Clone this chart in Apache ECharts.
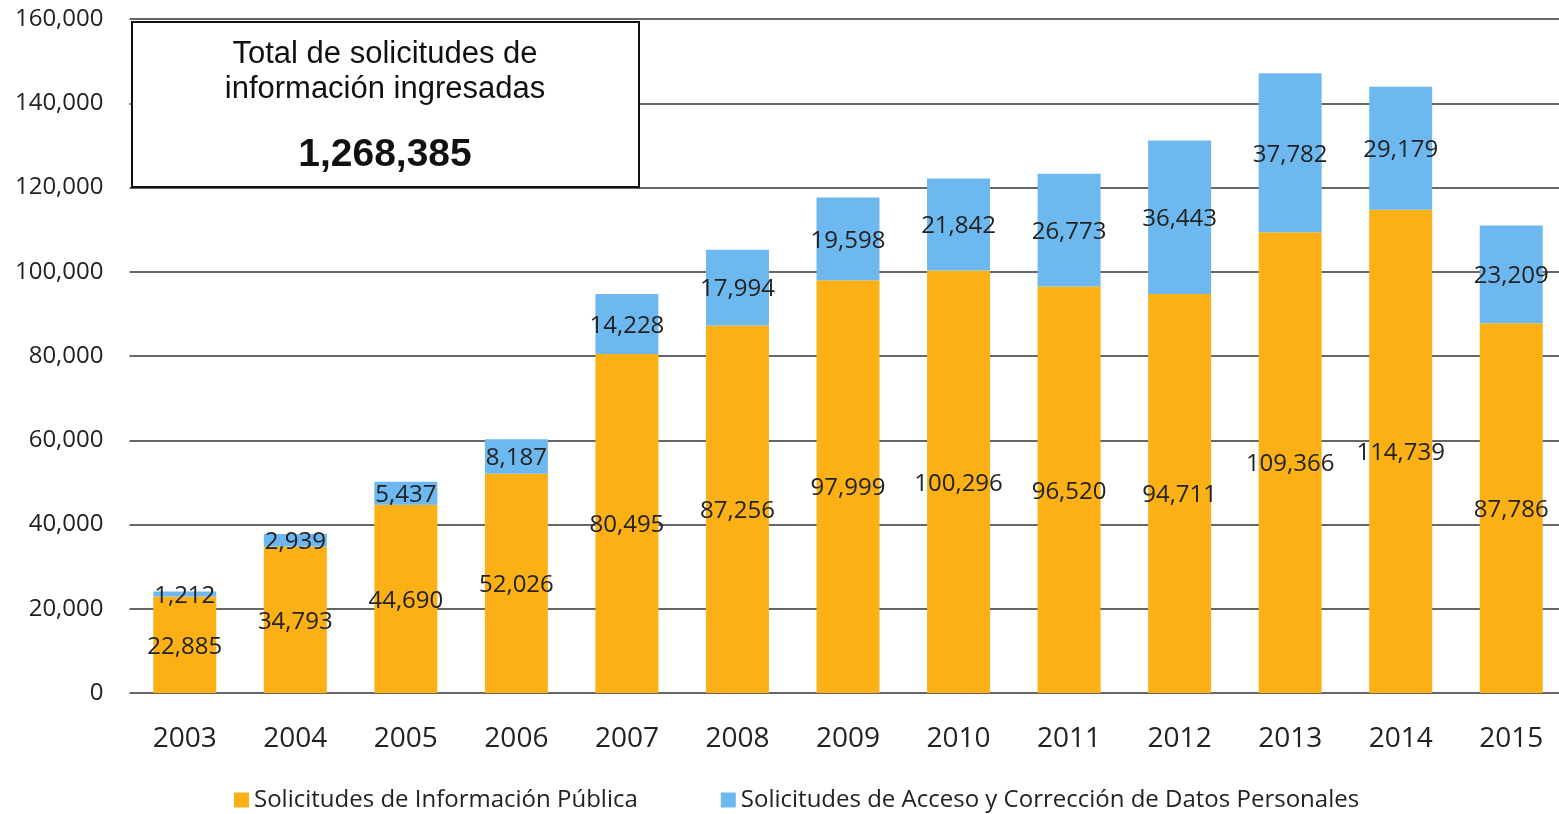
<!DOCTYPE html>
<html>
<head>
<meta charset="utf-8">
<script src="https://cdn.jsdelivr.net/npm/echarts@6/dist/echarts.min.js"></script>
<style>
  html, body { margin: 0; padding: 0; background: #fff; }
  #chart { width: 1559px; height: 814px; }
</style>
</head>
<body>
<div id="chart"></div>
<script>
var years = ["2003", "2004", "2005", "2006", "2007", "2008", "2009", "2010", "2011", "2012", "2013", "2014", "2015"];
var publica = [22885, 34793, 44690, 52026, 80495, 87256, 97999, 100296, 96520, 94711, 109366, 114739, 87786];
var personales = [1212, 2939, 5437, 8187, 14228, 17994, 19598, 21842, 26773, 36443, 37782, 29179, 23209];
var seriesNames = ["Solicitudes de Información Pública", "Solicitudes de Acceso y Corrección de Datos Personales"];
var boxTitle = ["Total de solicitudes de", "información ingresadas"];
var boxTotal = "1,268,385";

var numFmt = function (v) {
  return String(v).replace(/\B(?=(\d{3})+(?!\d))/g, ",");
};

var chart = echarts.init(document.getElementById("chart"));

var labelStyle = {
  show: true,
  position: "inside",
  color: "#222",
  fontFamily: "Open Sans",
  fontSize: 24,
  offset: [0, 2],
  formatter: function (p) { return numFmt(p.value); }
};

chart.setOption({
  backgroundColor: "#fff",
  animation: false,
  grid: { left: 129.5, top: 19, width: 1437, height: 674, outerBoundsMode: "none" },
  legend: {
    left: 229,
    top: 783,
    itemWidth: 15,
    itemHeight: 15,
    itemGap: 83,
    icon: "rect",
    textStyle: { fontFamily: "Open Sans", fontSize: 24, color: "#222" },
    data: seriesNames
  },
  xAxis: {
    type: "category",
    data: years,
    axisLine: { show: false },
    axisTick: { show: false },
    axisLabel: { fontFamily: "Open Sans", fontSize: 28, color: "#222", margin: 32 }
  },
  yAxis: {
    type: "value",
    min: 0,
    max: 160000,
    interval: 20000,
    axisLine: { show: false },
    axisTick: { show: false },
    splitLine: { lineStyle: { color: "#333", width: 1.5 } },
    axisLabel: {
      fontFamily: "Open Sans",
      fontSize: 24,
      color: "#222",
      margin: 26,
      formatter: numFmt
    }
  },
  series: [
    {
      name: seriesNames[0],
      type: "bar",
      stack: "total",
      barWidth: 63,
      itemStyle: { color: "#FBB116" },
      label: labelStyle,
      data: publica
    },
    {
      name: seriesNames[1],
      type: "bar",
      stack: "total",
      barWidth: 63,
      itemStyle: { color: "#6DB8EE" },
      label: labelStyle,
      data: personales
    }
  ],
  graphic: [
    {
      type: "rect",
      left: 131,
      top: 21,
      shape: { width: 507, height: 165 },
      style: { fill: "#fff", stroke: "#111", lineWidth: 2 },
      z: 100
    },
    {
      type: "text",
      x: 385,
      y: 37,
      style: {
        text: boxTitle.join("\n"),
        fill: "#111",
        font: "31px 'Liberation Sans', Arial, sans-serif",
        align: "center",
        lineHeight: 35
      },
      z: 101
    },
    {
      type: "text",
      x: 385,
      y: 136,
      style: {
        text: boxTotal,
        fill: "#111",
        font: "bold 39px 'Liberation Sans', Arial, sans-serif",
        align: "center"
      },
      z: 101
    }
  ]
});
</script>
</body>
</html>
